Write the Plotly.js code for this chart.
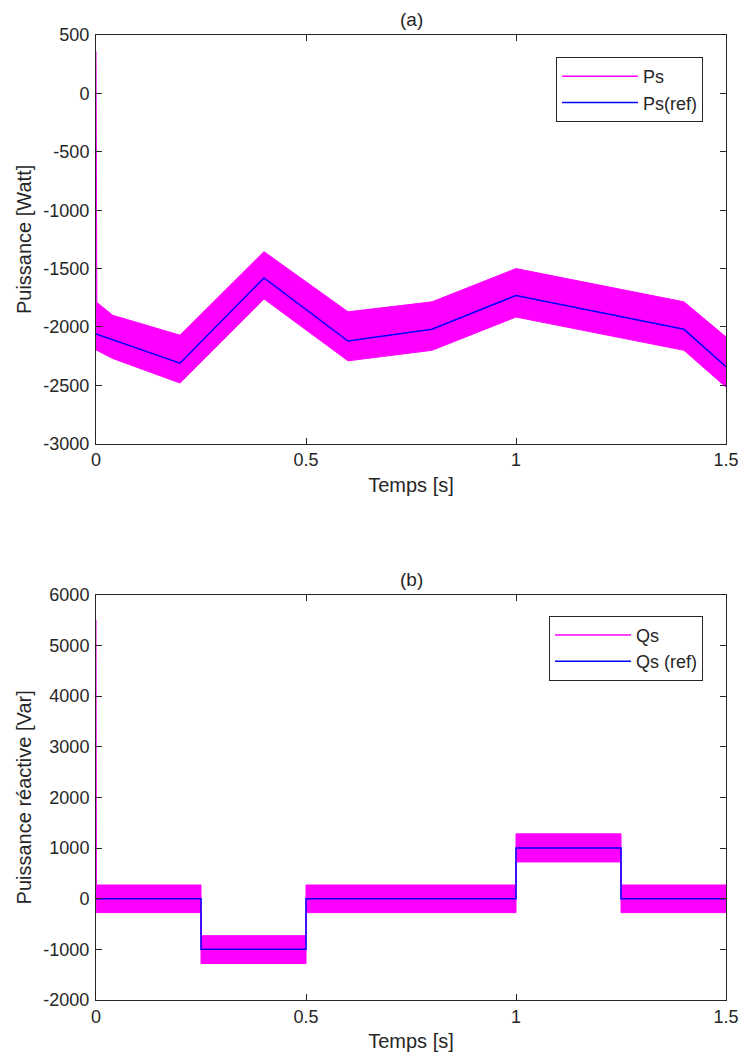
<!DOCTYPE html>
<html>
<head>
<meta charset="utf-8">
<script src="https://cdn.plot.ly/plotly-3.0.1.min.js"></script>
<style>html,body{margin:0;padding:0;background:#fff;}#plot{width:743px;height:1059px;}</style>
</head>
<body>
<div id="plot"></div>
<script>
// ---- Panel (a): active power ----
const tP      = [0, 0.002, 0.04, 0.2, 0.4, 0.6, 0.8, 1.0, 1.4, 1.5];
const psUpper = [360, -1790, -1900, -2070, -1355, -1870, -1785, -1500, -1785, -2085];
const psLower = [-2200, -2200, -2270, -2480, -1760, -2290, -2200, -1915, -2200, -2515];
const tPref   = [0, 0.2, 0.4, 0.6, 0.8, 1.0, 1.4, 1.5];
const psRef   = [-2060, -2310, -1580, -2120, -2020, -1730, -2020, -2340];
const pTicks  = [500, 0, -500, -1000, -1500, -2000, -2500, -3000];
const pTickText = ['500', '0', '-500', '-1000', '-1500', '-2000', '-2500', '-3000'];

// ---- Panel (b): reactive power ----
const tQ      = [0, 0.001, 0.25, 0.25, 0.5, 0.5, 1.0, 1.0, 1.25, 1.25, 1.5];
const qsUpper = [5500, 270, 270, -730, -730, 270, 270, 1280, 1280, 270, 270];
const qsLower = [0, -275, -275, -1280, -1280, -275, -275, 725, 725, -275, -275];
const tQref   = [0, 0.25, 0.5, 1.0, 1.25, 1.5];
const qsRef   = [0, -1000, 0, 1000, 0, 0];
const qTicks  = [6000, 5000, 4000, 3000, 2000, 1000, 0, -1000, -2000];
const qTickText = ['6000', '5000', '4000', '3000', '2000', '1000', '0', '-1000', '-2000'];

const xTicks = [0, 0.5, 1, 1.5];
const xTickText = ['0', '0.5', '1', '1.5'];

const MAG = '#ff00ff', BLUE = '#0000ff', AX = '#262626';
const FONT = 'Liberation Sans, Arial, sans-serif';

const traces = [
  {x: tP, y: psLower, xaxis: 'x', yaxis: 'y', mode: 'lines', line: {color: MAG, width: 1}, showlegend: false, hoverinfo: 'skip'},
  {x: tP, y: psUpper, xaxis: 'x', yaxis: 'y', mode: 'lines', line: {color: MAG, width: 1}, fill: 'tonexty', fillcolor: MAG, showlegend: false, hoverinfo: 'skip'},
  {x: [null], y: [null], xaxis: 'x', yaxis: 'y', mode: 'lines', name: 'Ps', line: {color: MAG, width: 1.5}, legend: 'legend'},
  {x: tPref, y: psRef, xaxis: 'x', yaxis: 'y', mode: 'lines', name: 'Ps(ref)', line: {color: BLUE, width: 1.5}, legend: 'legend'},

  {x: tQ, y: qsLower, xaxis: 'x2', yaxis: 'y2', mode: 'lines', line: {color: MAG, width: 1}, showlegend: false, hoverinfo: 'skip'},
  {x: tQ, y: qsUpper, xaxis: 'x2', yaxis: 'y2', mode: 'lines', line: {color: MAG, width: 1}, fill: 'tonexty', fillcolor: MAG, showlegend: false, hoverinfo: 'skip'},
  {x: [null], y: [null], xaxis: 'x2', yaxis: 'y2', mode: 'lines', name: 'Qs', line: {color: MAG, width: 1.5}, legend: 'legend2'},
  {x: tQref, y: qsRef, xaxis: 'x2', yaxis: 'y2', mode: 'lines', name: 'Qs (ref)', line: {color: BLUE, width: 1.5, shape: 'hv'}, legend: 'legend2'}
];

function xAxis(anchor) {
  return {
    anchor: anchor, range: [0, 1.5], tickmode: 'array', tickvals: xTicks, ticktext: xTickText,
    ticks: 'inside', ticklen: 6, tickcolor: AX, tickwidth: 1,
    showline: true, linecolor: AX, linewidth: 1, mirror: 'ticks',
    showgrid: false, zeroline: false,
    tickfont: {family: FONT, size: 18, color: '#262626'},
    title: {text: 'Temps [s]', font: {family: FONT, size: 20, color: '#262626'}, standoff: 8}
  };
}
function yAxis(anchor, domain, range, tv, tt, title) {
  return {
    anchor: anchor, domain: domain, range: range, tickmode: 'array', tickvals: tv, ticktext: tt,
    ticks: 'inside', ticklen: 6, tickcolor: AX, tickwidth: 1,
    showline: true, linecolor: AX, linewidth: 1, mirror: 'ticks',
    showgrid: false, zeroline: false, ticklabelstandoff: 2,
    tickfont: {family: FONT, size: 18, color: '#262626'},
    title: {text: title, font: {family: FONT, size: 20, color: '#262626'}, standoff: 6}
  };
}

const legendStyle = {
  bgcolor: '#ffffff', bordercolor: '#262626', borderwidth: 1,
  font: {family: FONT, size: 18, color: '#262626'},
  xanchor: 'right', yanchor: 'top', itemwidth: 76, tracegroupgap: 0, traceorder: 'normal'
};

const layout = {
  width: 743, height: 1059,
  margin: {l: 96, r: 17, t: 35, b: 58.5},
  paper_bgcolor: '#ffffff', plot_bgcolor: '#ffffff',
  showlegend: true,
  xaxis: xAxis('y'),
  yaxis: yAxis('x', [0.5764, 1], [-3000, 500], pTicks, pTickText, 'Puissance [Watt]'),
  xaxis2: xAxis('y2'),
  yaxis2: yAxis('x2', [0, 0.42], [-2000, 6000], qTicks, qTickText, 'Puissance réactive [Var]'),
  legend: Object.assign({x: 0.9635, y: 0.9772}, legendStyle),
  legend2: Object.assign({x: 0.9635, y: 0.3982}, legendStyle),
  annotations: [
    {text: '(a)', xref: 'paper', yref: 'paper', x: 0.5, y: 1, yshift: 3, xanchor: 'center', yanchor: 'bottom', showarrow: false, font: {family: FONT, size: 19, color: '#262626'}},
    {text: '(b)', xref: 'paper', yref: 'paper', x: 0.5, y: 0.42, yshift: 3, xanchor: 'center', yanchor: 'bottom', showarrow: false, font: {family: FONT, size: 19, color: '#262626'}}
  ]
};

Plotly.newPlot('plot', traces, layout, {staticPlot: true, displayModeBar: false});
</script>
</body>
</html>
